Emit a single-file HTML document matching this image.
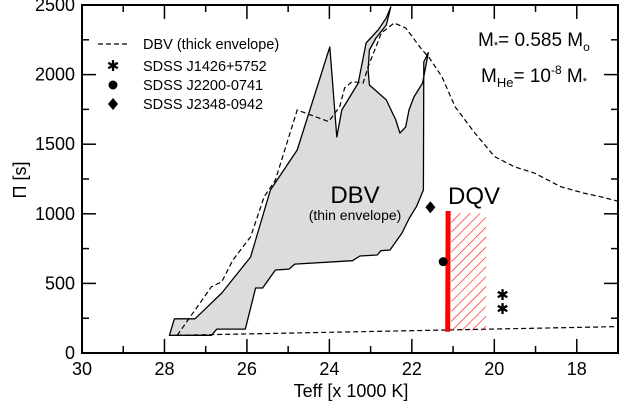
<!DOCTYPE html>
<html><head><meta charset="utf-8"><style>
html,body{margin:0;padding:0;background:#fff;}
svg{display:block;font-family:"Liberation Sans",sans-serif;}
</style></head><body>
<svg id="c" width="620" height="405" viewBox="0 0 620 405">
<defs>
<pattern id="hatch" patternUnits="userSpaceOnUse" width="7" height="7" patternTransform="rotate(45)">
<line x1="0" y1="0" x2="0" y2="7" stroke="#f00" stroke-width="1.2"/>
</pattern>
</defs>
<g id="marks"></g>
<g id="axes"></g>
<text x="355" y="203" font-size="24" text-anchor="middle">DBV</text>
<text x="355" y="220" font-size="14" text-anchor="middle">(thin envelope)</text>
<text x="448" y="204" font-size="24">DQV</text>
<text x="478" y="46" font-size="19">M<tspan font-size="11" dy="3">*</tspan><tspan dy="-3">= 0.585 M</tspan><tspan font-size="12" dy="5">o</tspan></text>
<text x="481" y="82" font-size="19">M<tspan font-size="13" dy="5">He</tspan><tspan dy="-5">= 10</tspan><tspan font-size="12" dy="-8">-8</tspan><tspan dy="8"> M</tspan><tspan font-size="11" dy="3">*</tspan></text>
<g>
<line x1="98" y1="44" x2="128" y2="44" stroke="#000" stroke-width="1.2" stroke-dasharray="5,3"/>
<text x="143" y="49" font-size="14.5">DBV (thick envelope)</text>
<text x="113" y="71" font-size="15" text-anchor="middle">✱</text>
<text x="143" y="71" font-size="14.5">SDSS J1426+5752</text>
<circle cx="113" cy="85" r="4.5" fill="#000"/>
<text x="143" y="90" font-size="14.5">SDSS J2200-0741</text>
<path d="M113,98 L118,104 L113,110 L108,104 Z" fill="#000"/>
<text x="143" y="109" font-size="14.5">SDSS J2348-0942</text>
</g>
<text x="351" y="397" font-size="18" text-anchor="middle">Teff [x 1000 K]</text>
<text transform="translate(26,180) rotate(-90)" font-size="18" text-anchor="middle">Π [s]</text>
</svg>
<script>
const xTicks=[30,28,26,24,22,20,18];
const yTicks=[0,500,1000,1500,2000,2500];
const thinTeff=[27.88,27.76,27.26,26.61,25.91,25.43,24.78,23.99,23.82,23.70,23.30,23.11,22.82,22.62,22.51,22.62,22.87,23.03,23.06,23.03,22.62,22.39,22.29,22.15,22.07,21.95,21.74,21.60,21.71,21.72,21.89,22.06,22.24,22.53,22.75,22.84,23.26,23.44,24.84,24.98,25.31,25.62,25.79,26.04,26.73,26.86];
const thinPeriod=[127,246,246,431,690,1171,1458,2198,1552,1746,1939,2227,2320,2407,2486,2356,2263,2177,2033,1925,1818,1674,1580,1624,1746,1839,1940,2157,2091,1171,1051,970,862,740,735,704,697,663,639,603,596,467,467,172,172,127];
const thickTeff=[27.69,26.86,26.61,26.34,25.91,25.58,25.31,24.78,24.02,23.75,23.63,23.45,23.18,23.06,22.87,22.74,22.43,22.15,21.75,21.59,21.27,20.95,20.47,19.99,19.51,19.03,18.39,17.83,17.43,17.02];
const thickPeriod=[127,476,512,668,835,1123,1243,1746,1662,1769,1904,1950,1940,2057,2200,2299,2371,2335,2177,2126,1985,1769,1580,1410,1338,1293,1195,1149,1123,1092];
const thickBottomTeff=[27.69,17.0];
const thickBottomPeriod=[127,190];
const dqvEdgeTeff=[21.12,21.13];
const dqvEdgePeriod=[1020,153];
const dqvHatchTeff=[21.04,20.2];
const dqvHatchPeriod=[160,1003];
const starJ1426Teff=[19.8,19.8];
const starJ1426Period=[417,316];
const starJ2200Teff=[21.24];const starJ2200Period=[656];
const starJ2348Teff=[21.55];const starJ2348Period=[1047];

const X0=82,X1=618,Y0=353,Y1=5,TMIN=30,TMAX=17.0,PMAX=2500;
function X(t){return X0+(TMIN-t)*(X1-X0)/(TMIN-TMAX);}
function Y(p){return Y0-p*(Y0-Y1)/PMAX;}
const NS="http://www.w3.org/2000/svg";
const marks=document.getElementById('marks'),axes=document.getElementById('axes');
function mk(tag,attrs,parent){const e=document.createElementNS(NS,tag);for(const k in attrs)e.setAttribute(k,attrs[k]);parent.appendChild(e);return e;}
function pts(ts,ps){return ts.map((t,i)=>X(t).toFixed(1)+','+Y(ps[i]).toFixed(1)).join(' ');}

let e=mk('polygon',{points:pts(thinTeff,thinPeriod),fill:'#dcdcdc',stroke:'#000','stroke-width':1.3,'stroke-linejoin':'round'},marks);


e=mk('polyline',{points:pts(thickTeff,thickPeriod),fill:'none',stroke:'#000','stroke-width':1.2,'stroke-dasharray':'5,3'},marks);


e=mk('polyline',{points:pts(thickBottomTeff,thickBottomPeriod),fill:'none',stroke:'#000','stroke-width':1.2,'stroke-dasharray':'5,3'},marks);


const hx=X(dqvHatchTeff[0]),hx2=X(dqvHatchTeff[1]),hy=Y(dqvHatchPeriod[1]),hy2=Y(dqvHatchPeriod[0]);
e=mk('rect',{x:hx,y:hy,width:hx2-hx,height:hy2-hy,fill:'url(#hatch)'},marks);


e=mk('line',{x1:X(dqvEdgeTeff[0]),y1:Y(dqvEdgePeriod[0]),x2:X(dqvEdgeTeff[1]),y2:Y(dqvEdgePeriod[1]),stroke:'#f00','stroke-width':5},marks);


starJ1426Teff.forEach((t,i)=>{
 const s=mk('text',{x:X(t),y:Y(starJ1426Period[i])+5,'font-size':15,'text-anchor':'middle'},marks);s.textContent='✱';
 
 
});
starJ2200Teff.forEach((t,i)=>{
 const s=mk('circle',{cx:X(t),cy:Y(starJ2200Period[i]),r:4.5,fill:'#000'},marks);
 
 
});
starJ2348Teff.forEach((t,i)=>{
 const cx=X(t),cy=Y(starJ2348Period[i]);
 const s=mk('path',{d:`M${cx},${cy-6} L${cx+5},${cy} L${cx},${cy+6} L${cx-5},${cy} Z`,fill:'#000'},marks);
 
 
});
e=mk('rect',{x:X0,y:Y1,width:X1-X0,height:Y0-Y1,fill:'none',stroke:'#000','stroke-width':2},axes);


for(let t=30;t>=TMAX;t-=1){
 const x=X(t),L=(t%2===0)?14:7;
 mk('line',{x1:x,y1:Y0,x2:x,y2:Y0-L,stroke:'#000','stroke-width':1.5},axes);
 mk('line',{x1:x,y1:Y1,x2:x,y2:Y1+L,stroke:'#000','stroke-width':1.5},axes);
}
for(let p=0;p<=PMAX;p+=250){
 const y=Y(p),L=(p%500===0)?14:7;
 mk('line',{x1:X0,y1:y,x2:X0+L,y2:y,stroke:'#000','stroke-width':1.5},axes);
 mk('line',{x1:X1,y1:y,x2:X1-L,y2:y,stroke:'#000','stroke-width':1.5},axes);
}
xTicks.forEach(t=>{
 const l=mk('text',{x:X(t),y:375,'font-size':18,'text-anchor':'middle'},axes);l.textContent=t;
 
 
});
yTicks.forEach(p=>{
 const l=mk('text',{x:75,y:Y(p)+6,'font-size':18,'text-anchor':'end'},axes);l.textContent=p;
 
 
});
</script>
</body></html>
